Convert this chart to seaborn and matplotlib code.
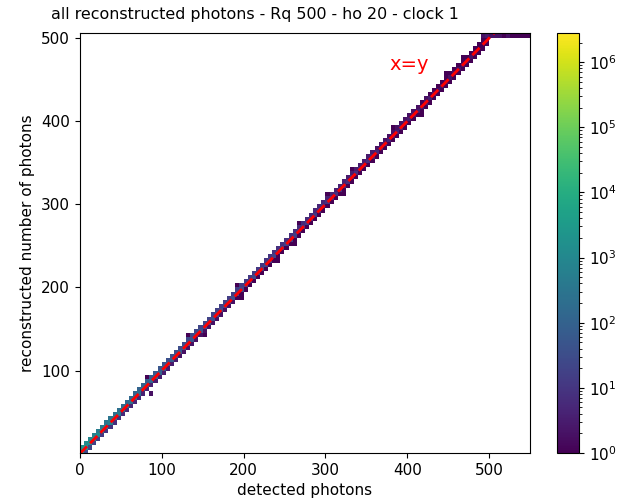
import numpy as np
import matplotlib
matplotlib.use("Agg")
import matplotlib.pyplot as plt
from matplotlib.colors import LogNorm
import seaborn as sns

# bin width (photons) for both axes
BIN = 5

# counts on the diagonal, one per 5-photon bin from 0 to 500
main_counts = [4200, 2600, 1900, 1500, 1100, 900, 760, 640, 560, 480,
               380, 330, 290, 250, 220, 190, 170, 150, 130, 110,
               90, 80, 74, 68, 62, 58, 54, 50, 47, 44,
               42, 40, 38, 36, 34, 32, 31, 29, 28, 27,
               26, 25, 24, 22, 21, 20, 19, 18, 17, 16,
               15, 14, 14, 13, 12, 12, 11, 11, 10, 10,
               9, 9, 8, 8, 8, 7, 7, 7, 6, 6,
               6, 5, 5, 5, 5, 4, 4, 4, 4, 4,
               3, 3, 3, 3, 3, 3, 3, 2, 2, 2,
               2, 2, 2, 2, 2, 2, 2, 1, 1, 1]

# counts one bin above the diagonal
upper_counts = [2000, 1300, 900, 700, 520, 430, 360, 300, 260, 220,
                180, 160, 140, 120, 105, 92, 80, 70, 62, 54,
                46, 40, 37, 34, 31, 29, 27, 25, 23, 22,
                21, 20, 19, 18, 17, 16, 15, 14, 14, 13,
                13, 12, 12, 11, 10, 10, 9, 9, 8, 8,
                8, 7, 7, 6, 6, 6, 5, 5, 5, 5,
                4, 4, 4, 4, 4, 3, 3, 3, 3, 3,
                3, 3, 2, 2, 2, 2, 2, 2, 2, 2,
                2, 2, 2, 1, 2, 1, 1, 1, 1, 1,
                1, 1, 1, 1, 1, 1, 1, 1, 1, 0]

# counts one bin below the diagonal (low)
lower_counts = [0, 30, 22, 18, 15, 12, 10, 9, 8, 7,
                6, 6, 5, 5, 5, 4, 4, 4, 3, 3,
                3, 3, 3, 3, 2, 2, 2, 2, 2, 2,
                2, 2, 2, 2, 2, 2, 2, 2, 1, 1,
                1, 1, 1, 1, 1, 1, 1, 1, 1, 1,
                1, 1, 1, 1, 1, 1, 1, 1, 1, 1,
                1, 1, 1, 1, 1, 1, 1, 1, 1, 1,
                1, 1, 1, 1, 1, 1, 1, 1, 1, 1,
                1, 1, 1, 1, 1, 1, 1, 1, 1, 1,
                1, 1, 1, 1, 1, 1, 1, 1, 1, 1]

# detected photons beyond 490: reconstruction saturates at the top row
sat_x = [492, 497, 502, 507, 512, 517, 522, 527, 532, 537, 542, 547]
sat_y = [502, 502, 502, 502, 502, 502, 502, 502, 502, 502, 502, 502]
sat_n = [2, 3, 2, 2, 2, 1, 2, 1, 1, 1, 1, 1]

# stray cells off the band (bumps in the staircase)
extra_x = [87, 82, 132, 152, 197, 192, 242, 262, 267, 302, 322, 332, 382, 417, 447, 467]
extra_y = [72, 92, 142, 142, 187, 202, 232, 252, 277, 312, 312, 342, 392, 407, 457, 477]
extra_n = [2, 1, 1, 1, 1, 1, 1, 1, 1, 1, 1, 1, 1, 1, 1, 1]

# build the weighted samples
xs, ys, ws = [], [], []
for i in range(len(main_counts)):
    xc = i * BIN + BIN / 2
    for shift, counts in ((0, main_counts), (-1, lower_counts), (1, upper_counts)):
        if counts[i] > 0:
            xs.append(xc)
            ys.append(xc + shift * BIN)
            ws.append(counts[i])
xs += sat_x + extra_x
ys += sat_y + extra_y
ws += sat_n + extra_n

x_edges = np.arange(0, 555, BIN)
y_edges = np.arange(0, 515, BIN)

sns.set_style("ticks", {"text.color": "black", "axes.labelcolor": "black",
                        "xtick.color": "black", "ytick.color": "black",
                        "axes.edgecolor": "black"})

fig = plt.figure(figsize=(6.23, 5.01), dpi=100)
ax = fig.add_axes([0.128, 0.096, 0.723, 0.838])
cax = fig.add_axes([0.894, 0.096, 0.036, 0.838])

sns.histplot(x=xs, y=ys, weights=ws, bins=[x_edges, y_edges], ax=ax,
             cmap="viridis", norm=LogNorm(vmin=1, vmax=2.8e6),
             vmin=None, vmax=None, cbar=True, cbar_ax=cax)

ax.plot([0, 550], [0, 550], color="red", linestyle="--", linewidth=2)
ax.text(378, 462, "x=y", color="red", fontsize=14)

ax.set_xlim(0, 550)
ax.set_ylim(1, 506)
ax.set_xticks([0, 100, 200, 300, 400, 500])
ax.set_yticks([100, 200, 300, 400, 500])
ax.set_xlabel("detected photons", fontsize=11)
ax.set_ylabel("reconstructed number of photons", fontsize=11)
ax.set_title("all reconstructed photons - Rq 500 - ho 20 - clock 1",
             fontsize=11.4, x=0.39, pad=10)
ax.tick_params(labelsize=11)
cax.tick_params(labelsize=11)

fig.savefig("out.png", dpi=100)
